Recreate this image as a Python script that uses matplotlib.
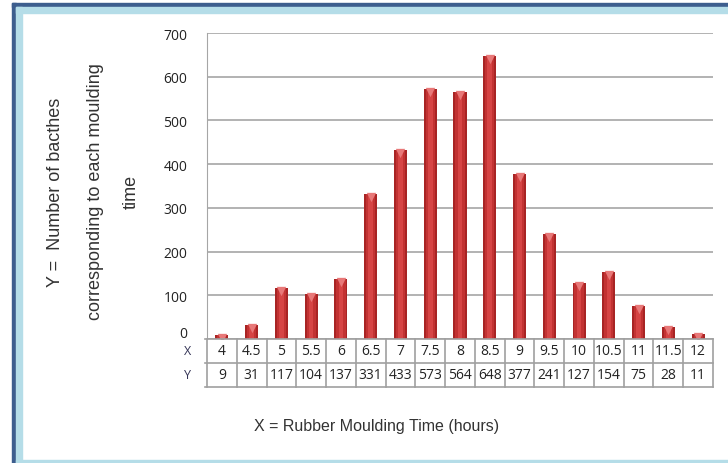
import matplotlib.pyplot as plt
import matplotlib.transforms as mtransforms
from matplotlib.patches import Rectangle

x_labels = ["4", "4.5", "5", "5.5", "6", "6.5", "7", "7.5", "8", "8.5",
            "9", "9.5", "10", "10.5", "11", "11.5", "12"]
y_values = [9, 31, 117, 104, 137, 331, 433, 573, 564, 648,
            377, 241, 127, 154, 75, 28, 11]
y_ticks = [0, 100, 200, 300, 400, 500, 600, 700]

W, H = 728, 464
fig = plt.figure(figsize=(W / 100, H / 100), dpi=100)
fig.patch.set_facecolor("white")


def px(x0, y0, x1, y1):
    # pixel box (top-left origin) -> figure fraction rect
    return [x0 / W, 1 - y1 / H, (x1 - x0) / W, (y1 - y0) / H]


# window-like frame
dark, light = "#3d5e8e", "#b5dde8"
fig.patches.extend([
    Rectangle((12 / W, 0), 4 / W, 1 - 4 / H, transform=fig.transFigure, color=dark),
    Rectangle((12 / W, 1 - 8 / H), 1, 4 / H, transform=fig.transFigure, color=dark),
    Rectangle((16 / W, 0), 6 / W, 1 - 8 / H, transform=fig.transFigure, color=light),
    Rectangle((16 / W, 1 - 14 / H), 1, 6 / H, transform=fig.transFigure, color=light),
    Rectangle((16 / W, 0), 1, 3.5 / H, transform=fig.transFigure, color=light),
])

ax = fig.add_axes(px(207, 34, 713, 340))
n = len(y_values)
xs = list(range(n))
ax.set_xlim(-0.5, n - 0.5)
ax.set_ylim(0, 700)

# bars with a simple cylinder-like shading
bw = 0.44
ax.bar(xs, y_values, width=bw, color="#a82424", zorder=3)
ax.bar(xs, y_values, width=bw * 0.7, color="#c23232", zorder=3)
ax.bar(xs, y_values, width=bw * 0.35, color="#d64444", zorder=3)
cap_shift = mtransforms.offset_copy(ax.transData, fig=fig, y=-3, units="dots")
ax.scatter(xs, y_values, marker="v", s=45, color="#e87878", zorder=4,
           linewidths=0, transform=cap_shift)

ax.set_yticks(y_ticks)
ax.set_yticklabels([str(t) for t in y_ticks], fontsize=10, color="#222222",
                   family="Open Sans")
ax.tick_params(axis="y", length=0, pad=14)
zero_lbl = ax.get_yticklabels()[0]
zero_lbl.set_transform(zero_lbl.get_transform() +
                       mtransforms.ScaledTranslation(0, 7 / 100, fig.dpi_scale_trans))
ax.set_xticks([])
ax.yaxis.grid(True, color="#a6a6a6", linewidth=1.2)
ax.set_axisbelow(True)
for side in ["top", "right", "bottom"]:
    ax.spines[side].set_visible(False)
ax.spines["left"].set_color("#a6a6a6")

# data table under the plot
tab = fig.add_axes(px(207, 340, 713, 388))
tab.set_xlim(-0.5, n - 0.5)
tab.set_ylim(0, 2)
tab.axis("off")
lc = "#a0a0a0"
for yy in [0, 1, 2]:
    tab.plot([-0.57, n - 0.5], [yy, yy], color=lc, lw=1.2, clip_on=False)
for i in range(n + 1):
    tab.plot([i - 0.5, i - 0.5], [0, 2], color=lc, lw=1.2, clip_on=False)
for i in range(n):
    tab.text(i, 1.5, x_labels[i], ha="center", va="center", fontsize=10,
             color="#222222", family="Open Sans")
    tab.text(i, 0.5, str(y_values[i]), ha="center", va="center", fontsize=10,
             color="#222222", family="Open Sans")
tab.text(-1.15, 1.5, "X", ha="center", va="center", fontsize=9, color="#333355",
         family="Open Sans", clip_on=False)
tab.text(-1.15, 0.5, "Y", ha="center", va="center", fontsize=9, color="#333355",
         family="Open Sans", clip_on=False)

# axis titles
ylab = ["Y =  Number of bacthes", "corresponding to each moulding", "time"]
for xpix, s in zip([56, 95, 131], ylab):
    fig.text(xpix / W, 1 - 192 / H, s, rotation=90, ha="center", va="center",
             fontsize=13, color="#333333", family="Liberation Sans")
fig.text(377 / W, 1 - 427 / H, "X = Rubber Moulding Time (hours)", ha="center",
         va="center", fontsize=11.5, color="#333333", family="Liberation Sans")

fig.savefig("out.png", dpi=100)
